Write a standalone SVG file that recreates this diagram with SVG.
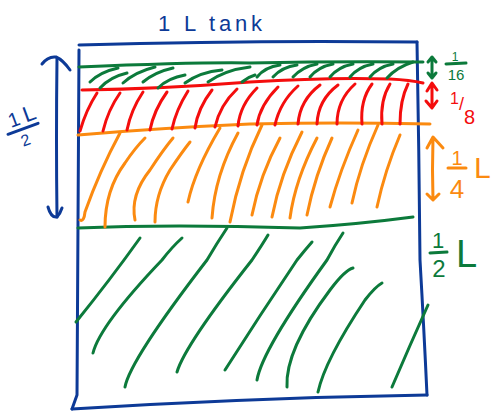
<svg xmlns="http://www.w3.org/2000/svg" width="493" height="411" viewBox="0 0 493 411">
<style>
.s{fill:none;stroke-linecap:round;stroke-linejoin:round;stroke-width:3}
.b{stroke:#0d3a97}
.g{stroke:#0c7a3b}
.r{stroke:#f40d0d}
.o{stroke:#fb8a10}
.t{font-family:"Liberation Sans",Arial,sans-serif}
.tb{fill:#0d3a97}
.tg{fill:#0c7a3b}
.tr{fill:#f40d0d}
.to{fill:#fb8a10}
</style>
<rect width="493" height="411" fill="#ffffff"/>

<g id="title">
<text class="t tb" x="158" y="31" font-size="22" textLength="104" lengthAdjust="spacing">1 L tank</text>
</g>

<g id="tank">
<path class="s b" d="M79,45 Q250,40 417,42"/>
<path class="s b" d="M79,50 Q78,230 77,395 L72,409"/>
<path class="s b" d="M417,42 Q419,150 420,260 Q424,330 427,395"/>
<path class="s b" d="M72,409 Q250,398 427,395"/>
</g>

<g id="layer-half-bottom">
<path class="s g" d="M78,228 Q170,224 300,228 Q360,224 413,217"/>
<path class="s g" d="M76,322 Q110,280 140,238"/>
<path class="s g" d="M93,353 Q100,325 162,260 Q172,247 182,238"/>
<path class="s g" d="M125,387 Q130,360 207,260 Q217,243 227,228"/>
<path class="s g" d="M177,372 Q185,345 252,260 Q262,245 268,235"/>
<path class="s g" d="M225,370 Q260,315 297,260 Q305,250 312,242"/>
<path class="s g" d="M257,380 Q262,350 327,260 Q335,245 343,233"/>
<path class="s g" d="M287,387 Q285,350 330,290 Q345,270 353,268"/>
<path class="s g" d="M318,392 Q325,360 365,300 Q375,287 382,283"/>
<path class="s g" d="M392,387 Q410,345 428,305"/>
</g>

<g id="layer-quarter">
<path class="s o" d="M78,135 Q160,128 250,124 Q340,122 430,124"/>
<path class="s o" d="M80,220 Q84,222 85,212 Q100,170 120,133"/>
<path class="s o" d="M105,227 Q105,190 125,163 Q135,148 145,138"/>
<path class="s o" d="M135,220 Q130,195 150,170 Q163,150 173,138"/>
<path class="s o" d="M155,222 Q155,195 170,170 Q182,152 190,142"/>
<path class="s o" d="M188,202 Q195,170 220,128"/>
<path class="s o" d="M212,218 Q215,175 238,133"/>
<path class="s o" d="M230,222 Q240,170 262,125"/>
<path class="s o" d="M252,215 Q260,175 280,138"/>
<path class="s o" d="M272,217 Q280,175 302,132"/>
<path class="s o" d="M290,218 Q295,180 317,138"/>
<path class="s o" d="M307,215 Q315,175 332,138"/>
<path class="s o" d="M330,207 Q340,170 358,130"/>
<path class="s o" d="M352,203 Q360,165 378,125"/>
<path class="s o" d="M377,207 Q385,170 400,135"/>
</g>

<g id="layer-eighth">
<path class="s r" d="M82,90 Q160,89 250,82 Q330,77 390,79 Q410,80 423,83"/>
<path class="s r" d="M80,131 Q86,110 97,93"/>
<path class="s r" d="M103,131 Q108,110 120,93"/>
<path class="s r" d="M127,130 Q131,110 143,92"/>
<path class="s r" d="M150,130 Q154,110 167,92"/>
<path class="s r" d="M172,129 Q176,110 188,91"/>
<path class="s r" d="M195,128 Q198,108 212,90"/>
<path class="s r" d="M215,127 Q220,105 237,89"/>
<path class="s r" d="M238,126 Q240,105 257,88"/>
<path class="s r" d="M257,125 Q260,105 278,87"/>
<path class="s r" d="M275,125 Q280,102 298,86"/>
<path class="s r" d="M298,124 Q300,100 320,85"/>
<path class="s r" d="M317,124 Q318,100 338,85"/>
<path class="s r" d="M337,124 Q337,100 355,84"/>
<path class="s r" d="M362,124 Q360,100 372,84"/>
<path class="s r" d="M382,124 Q380,100 390,84"/>
<path class="s r" d="M400,124 Q400,100 408,84"/>
</g>

<g id="layer-sixteenth">
<path class="s g" d="M79,67 Q200,62 250,63 Q340,61 423,62"/>
<path class="s g" d="M90,82 Q100,72 118,68"/>
<path class="s g" d="M100,88 Q110,77 127,73"/>
<path class="s g" d="M123,83 Q135,72 155,67"/>
<path class="s g" d="M143,82 Q155,72 173,68"/>
<path class="s g" d="M158,88 Q168,78 185,75"/>
<path class="s g" d="M185,83 Q200,72 222,70"/>
<path class="s g" d="M208,82 Q225,70 250,67"/>
<path class="s g" d="M242,82 Q248,77 255,75"/>
<path class="s g" d="M257,77 Q265,67 280,65"/>
<path class="s g" d="M273,77 Q282,67 297,65"/>
<path class="s g" d="M293,77 Q302,67 317,64"/>
<path class="s g" d="M310,77 Q318,67 333,64"/>
<path class="s g" d="M330,77 Q338,67 353,64"/>
<path class="s g" d="M350,77 Q358,67 373,64"/>
<path class="s g" d="M370,77 Q378,67 393,64"/>
<path class="s g" d="M387,78 Q397,67 413,62"/>
</g>

<g id="connectors">
<path class="s b" d="M57,58 Q56,140 57,217"/>
<path class="s b" d="M42,64 Q48,56 56,57 Q63,60 70,70"/>
<path class="s b" d="M48,207 Q51,218 57,217 Q60,214 62,208"/>
<path class="s g" d="M432,58 L432,77 M428,62 L432,57 L436,62 M428,73 L432,78 L436,73"/>
<path class="s r" d="M432,84 L432,107 M427,91 L432,83 L437,90 M426,101 L432,108 L437,101"/>
<path class="s o" d="M433,138 Q432,170 433,200 M427,148 L433,137 L443,148 M427,194 L433,200 L439,194"/>
</g>

<g id="label-left-half">
<g transform="translate(22,126) rotate(-20)">
<text class="t tb" x="-11" y="-2" font-size="20">1</text>
<text class="t tb" x="5" y="-2" font-size="22">L</text>
<path class="s b" d="M-16,3 L16,3"/>
<text class="t tb" x="-6" y="20" font-size="16">2</text>
</g>
</g>

<g id="label-sixteenth">
<text class="t tg" x="455" y="61" font-size="12" text-anchor="middle">1</text>
<path class="s g" stroke-width="2" d="M446,64 L466,63"/>
<text class="t tg" x="456" y="80" font-size="15" text-anchor="middle">16</text>
</g>

<g id="label-eighth">
<text class="t tr" x="450" y="104" font-size="16">1<tspan dy="6" font-size="18">/</tspan><tspan dy="14" font-size="20">8</tspan></text>
</g>

<g id="label-quarter">
<text class="t to" x="457" y="165" font-size="20" text-anchor="middle">1</text>
<path class="s o" d="M448,168 L466,168"/>
<text class="t to" x="457" y="198" font-size="26" text-anchor="middle">4</text>
<text class="t to" x="474" y="178" font-size="30">L</text>
</g>

<g id="label-half-right">
<text class="t tg" x="438" y="248" font-size="22" text-anchor="middle">1</text>
<path class="s g" d="M430,253 L447,252"/>
<text class="t tg" x="439" y="277" font-size="24" text-anchor="middle">2</text>
<text class="t tg" x="456" y="267" font-size="38">L</text>
</g>
</svg>
